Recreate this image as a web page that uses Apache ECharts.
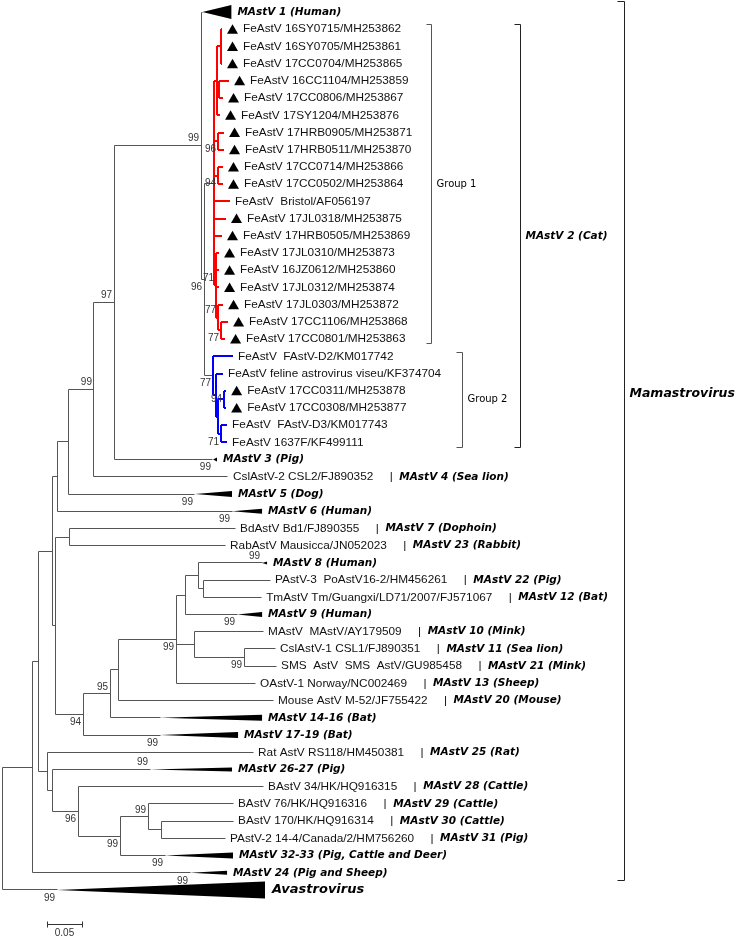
<!DOCTYPE html>
<html><head><meta charset="utf-8">
<script src="https://cdn.jsdelivr.net/npm/echarts@6/dist/echarts.min.js"></script>
<style>html,body{margin:0;padding:0;background:#fff}#c{width:741px;height:937px}</style>
</head><body><div id="c"></div>
<script>
// ---------------- DATA ----------------
// Tree topology as Newick fragments: leaf Ln = display row n, internal labels = bootstrap (%),
// branch lengths in substitutions/site.
const group1Clade = "(((L2:0.0014,L3:0.0014,L4:0.0014):0.0057,(L5:0.0143,L6:0.0057):0.0029,L7:0.0043):0.0043," +
  "(L8:0.0086,L9:0.0086)96:0.0057,(L10:0.0071,L11:0.0071)94:0.0057,L12:0.0229,L13:0.0171,L14:0.0114," +
  "(L15:0.0043,L16:0.0043,L17:0.0043,(L18:0.0071,(L19:0.01,L20:0.0057)77:0.0043)77:0.0029)71:0.0029):0.0143";
const group2Clade = "(L21:0.0286,(L22:0.01,((L23:0.0029,L24:0.0029)94:0.0086,(L25:0.0086,L26:0.0086)71:0.0043):0.0029):0.0043)77:0.0129";
const catClade = "(" + group1Clade + "," + group2Clade + ")96:0.0043";
const upperClade = "((((L1:0.002," + catClade + ")99:0.1243,L27:0.1414)97:0.0286,L28:0.1914)99:0.0371,L29:0.1814):0.0157";
const humanClade = "(" + upperClade + ",L30:0.25):0.0071";
const batQ = "((L33:0.0914,(L34:0.0957,L35:0.0829):0.0071):0.0186,L36:0.0743):0.0129";
const batR = "(L37:0.0986,(L38:0.0443,L39:0.0457)99:0.0714):0.0257";
const middleClade = "((L31:0.2371,L32:0.2229):0.02,((((" + batQ + "," + batR +
  ",L40:0.1129)99:0.0829,L41:0.2214):0.0114,L42:0.0714)95:0.0386,L43:0.11)94:0.04):0.0043";
const lowerClade = "(L44:0.2943,(L45:0.14,(L46:0.2643,((L47:0.1214,(L48:0.1029,L49:0.0914):0.0186)99:0.04,L50:0.0643)99:0.06)96:0.0371):0.0071):0.0129";
const newick = "((((" + humanClade + "," + middleClade + "):0.02," + lowerClade + "):0.0086,L51:0.2257):0.0429,L52:0.0786);";

const leafNames = [
 'MAstV 1 (Human)','FeAstV 16SY0715/MH253862','FeAstV 16SY0705/MH253861','FeAstV 17CC0704/MH253865',
 'FeAstV 16CC1104/MH253859','FeAstV 17CC0806/MH253867','FeAstV 17SY1204/MH253876','FeAstV 17HRB0905/MH253871',
 'FeAstV 17HRB0511/MH253870','FeAstV 17CC0714/MH253866','FeAstV 17CC0502/MH253864','FeAstV  Bristol/AF056197',
 'FeAstV 17JL0318/MH253875','FeAstV 17HRB0505/MH253869','FeAstV 17JL0310/MH253873','FeAstV 16JZ0612/MH253860',
 'FeAstV 17JL0312/MH253874','FeAstV 17JL0303/MH253872','FeAstV 17CC1106/MH253868','FeAstV 17CC0801/MH253863',
 'FeAstV  FAstV-D2/KM017742','FeAstV feline astrovirus viseu/KF374704','FeAstV 17CC0311/MH253878','FeAstV 17CC0308/MH253877',
 'FeAstV  FAstV-D3/KM017743','FeAstV 1637F/KF499111','MAstV 3 (Pig)','CslAstV-2 CSL2/FJ890352',
 'MAstV 5 (Dog)','MAstV 6 (Human)','BdAstV Bd1/FJ890355','RabAstV Mausicca/JN052023',
 'MAstV 8 (Human)','PAstV-3  PoAstV16-2/HM456261','TmAstV Tm/Guangxi/LD71/2007/FJ571067','MAstV 9 (Human)',
 'MAstV  MAstV/AY179509','CslAstV-1 CSL1/FJ890351','SMS  AstV  SMS  AstV/GU985458','OAstV-1 Norway/NC002469',
 'Mouse AstV M-52/JF755422','MAstV 14-16 (Bat)','MAstV 17-19 (Bat)','Rat AstV RS118/HM450381',
 'MAstV 26-27 (Pig)','BAstV 34/HK/HQ916315','BAstV 76/HK/HQ916316','BAstV 170/HK/HQ916314',
 'PAstV-2 14-4/Canada/2/HM756260','MAstV 32-33 (Pig, Cattle and Deer)','MAstV 24 (Pig and Sheep)','Avastrovirus'
];
const tagRows = [28,31,32,34,35,37,38,39,40,41,44,46,47,48,49];
const tagTexts = ['MAstV 4 (Sea lion)','MAstV 7 (Dophoin)','MAstV 23 (Rabbit)','MAstV 22 (Pig)','MAstV 12 (Bat)',
 'MAstV 10 (Mink)','MAstV 11 (Sea lion)','MAstV 21 (Mink)','MAstV 13 (Sheep)','MAstV 20 (Mouse)',
 'MAstV 25 (Rat)','MAstV 28 (Cattle)','MAstV 29 (Cattle)','MAstV 30 (Cattle)','MAstV 31 (Pig)'];
const markedRows = [2,3,4,5,6,7,8,9,10,11,13,14,15,16,17,18,19,20,23,24];
const collapsedRows = [1,27,29,30,33,36,42,43,45,50,51,52];
const collapsedDepth = [0.0414,0.0057,0.0529,0.0429,0.0071,0.0357,0.1457,0.1114,0.1171,0.0971,0.0529,0.2971];
const collapsedSupport = [null,99,99,99,99,99,null,99,99,99,99,99];
const scaleBarLength = 0.05;
const scaleBarLabel = '0.05';
const groupNames = ['Group 1','Group 2','MAstV 2 (Cat)','Mamastrovirus'];
const groupFirstRow = [2,21,2,1];
const groupLastRow = [20,26,26,51];

// ---------------- STYLE ----------------
const GRAY='#555', RED='#ff0000', BLUE='#0000ff';
const cladeColor = {'2-20':RED,'21-26':BLUE};
const supportAbove = {'1-26':1,'1-27':1,'1-28':1,'15-20':1,'18-20':1,'33-42':1,'47-49':1,'33':1,'45':1,'23-24':2};
const wedgeHalf = {1:7,27:2,29:3,30:2.5,33:1.5,36:2.5,42:3,43:3,45:2,50:3,51:2,52:8.5};
const bracketX = [431,462,520,624], bracketTick=[5,6,6,7], bracketTop=[-5,-4,-5,-11], bracketBot=[4,5,5,7];
const bracketColor = ['#555','#555','#222','#222'];
const bracketLabelRowShift = [0,0,0,-2.8];
const scaleBarStart = 0.0643;
const NORM="'Liberation Sans', Arial, sans-serif", VERD="'DejaVu Sans', Verdana, sans-serif";

// ---------------- TREE LAYOUT ----------------
function parseNewick(s){
  let i=0;
  function node(){
    const n={children:[]};
    if(s[i]==='('){ i++; n.children.push(node()); while(s[i]===','){ i++; n.children.push(node()); } i++; }
    let lab=''; while(i<s.length && !':,);'.includes(s[i])) lab+=s[i++];
    n.label=lab; n.bl=0;
    if(s[i]===':'){ i++; let num=''; while(i<s.length && !',);'.includes(s[i])) num+=s[i++]; n.bl=parseFloat(num); }
    return n;
  }
  return node();
}
const root=parseNewick(newick);
const allNodes=[];
(function lay(n,px,parent){
  n.x=px+n.bl; n.parent=parent; allNodes.push(n);
  n.color = parent? parent.color : GRAY;
  if(n.children.length){
    const f0=n.children[0], l0=n.children[n.children.length-1];
    const rng=(m)=>{ if(!m.children.length) return [parseInt(m.label.slice(1)),parseInt(m.label.slice(1))];
      return [rng(m.children[0])[0], rng(m.children[m.children.length-1])[1]]; };
    const r=rng(n); if(cladeColor[r[0]+'-'+r[1]]) n.color=cladeColor[r[0]+'-'+r[1]];
    n.children.forEach(c=>lay(c,n.x,n));
    n.y=(f0.y+l0.y)/2; n.first=f0.first; n.last=l0.last;
  } else { n.row=parseInt(n.label.slice(1)); n.y=n.row; n.first=n.last=n.row; }
  n.key=n.first===n.last? String(n.first) : n.first+'-'+n.last;
})(root,0,null);

const colorList=[GRAY,RED,BLUE];
const cIdx=c=>colorList.indexOf(c);
const segs=[];
allNodes.forEach(n=>{
  if(n.parent) segs.push([n.parent.x,n.y,n.x,n.y,cIdx(n.parent.color)]);
  if(n.children.length){
    const f=n.children[0], l=n.children[n.children.length-1];
    segs.push([n.x,f.y,n.x,l.y,cIdx(n.color)]);
  }
});
const wedges=[], leafLab=[], supports=[];
allNodes.forEach(n=>{
  if(n.children.length){
    if(n.label) supports.push([n.x,n.y,+n.label,supportAbove[n.key]||0]);
    return;
  }
  const ci=collapsedRows.indexOf(n.row);
  if(ci>=0){
    wedges.push([n.x,n.y,n.x+collapsedDepth[ci],n.row]);
    leafLab.push([n.x+collapsedDepth[ci],n.y,n.row]);
    if(collapsedSupport[ci]!=null) supports.push([n.x,n.y,collapsedSupport[ci],supportAbove[n.key]||0]);
  } else leafLab.push([n.x,n.y,n.row]);
});
const brackets=groupNames.map((g,i)=>[groupFirstRow[i],groupLastRow[i],i]);

// ---------------- RENDER ----------------
const chart=echarts.init(document.getElementById('c'),null,{renderer:'canvas'});
const snap=(v,w)=> (w%2? Math.round(v-0.5)+0.5 : Math.round(v));
chart.setOption({
  animation:false,
  grid:{left:2,right:0,top:12,bottom:47},
  xAxis:{type:'value',min:0,max:739/700,show:false},
  yAxis:{type:'value',min:1,max:52,inverse:true,show:false},
  series:[
    {type:'custom',clip:false,silent:true,data:segs,encode:{x:[0,2],y:[1,3]},
     renderItem:(p,api)=>{
       const a=api.coord([api.value(0),api.value(1)]), b=api.coord([api.value(2),api.value(3)]);
       const c=api.value(4), w=c?2:1;
       return {type:'line',shape:{x1:snap(a[0],w),y1:snap(a[1],w),x2:snap(b[0],w),y2:snap(b[1],w)},
               style:{stroke:colorList[c],lineWidth:w}};
     }},
    {type:'custom',clip:false,silent:true,data:wedges,encode:{x:[0,2],y:1},
     renderItem:(p,api)=>{
       const a=api.coord([api.value(0),api.value(1)]), t=api.coord([api.value(2),api.value(1)]);
       const h=wedgeHalf[api.value(3)];
       return {type:'polygon',shape:{points:[[a[0],a[1]],[t[0],t[1]-h],[t[0],t[1]+h]]},style:{fill:'#000'}};
     }},
    {type:'custom',clip:false,silent:true,data:leafLab,encode:{x:0,y:1},
     renderItem:(p,api)=>{
       const t=api.coord([api.value(0),api.value(1)]); const row=api.value(2);
       const name=leafNames[row-1];
       const children=[];
       let x=t[0];
       if(collapsedRows.indexOf(row)>=0){
         const big=row===52;
         children.push({type:'text',x:x+(big?7:6),y:t[1],style:{text:name,fill:'#000',
           font:(big?'italic bold 13px ':'italic bold 10.5px ')+VERD,align:'left',verticalAlign:'middle'}});
       } else {
         if(markedRows.indexOf(row)>=0){
           const cx=x+10.5, cy=t[1];
           children.push({type:'polygon',shape:{points:[[cx-5.5,cy+4.5],[cx+5.5,cy+4.5],[cx,cy-5]]},style:{fill:'#000'}});
           x+=21;
         } else x+=5;
         const ti=tagRows.indexOf(row);
         const txt= ti>=0 ? '{n|'+name+'}{n|     |  }{b|'+tagTexts[ti]+'}' : '{n|'+name+'}';
         children.push({type:'text',x:x,y:t[1],style:{text:txt,align:'left',verticalAlign:'middle',
           rich:{n:{fontFamily:NORM,fontSize:11.8,fill:'#111'},
                 b:{fontFamily:VERD,fontSize:10.5,fontWeight:'bold',fontStyle:'italic',fill:'#000'}}}});
       }
       return {type:'group',children};
     }},
    {type:'custom',clip:false,silent:true,data:supports,encode:{x:0,y:1},
     renderItem:(p,api)=>{
       const t=api.coord([api.value(0),api.value(1)]); const pos=api.value(3);
       const dy= pos===1? -7 : (pos===2? 0 : 8);
       return {type:'text',x:t[0]-2,y:t[1]+dy,style:{text:String(api.value(2)),fill:'#333',
         font:'10px '+NORM,align:'right',verticalAlign:'middle'}};
     }},
    {type:'custom',clip:false,silent:true,data:brackets,encode:{y:[0,1]},
     renderItem:(p,api)=>{
       const i=api.value(2);
       const top=api.coord([0,api.value(0)])[1]+bracketTop[i], bot=api.coord([0,api.value(1)])[1]+bracketBot[i];
       const X=bracketX[i]+0.5, tk=bracketTick[i];
       const mid=api.coord([0,(api.value(0)+api.value(1))/2+bracketLabelRowShift[i]])[1];
       const st={stroke:bracketColor[i],lineWidth:1,fill:null};
       let font;
       if(i<2) font='10px '+VERD; else if(i===2) font='italic bold 10.5px '+VERD; else font='italic bold 12.5px '+VERD;
       return {type:'group',children:[
         {type:'polyline',shape:{points:[[X-tk,Math.round(top)+0.5],[X,Math.round(top)+0.5],[X,Math.round(bot)+0.5],[X-tk,Math.round(bot)+0.5]]},style:st},
         {type:'text',x:X+5,y:mid,style:{text:groupNames[i],fill:'#000',font,align:'left',verticalAlign:'middle'}}
       ]};
     }},
    {type:'custom',clip:false,silent:true,data:[[scaleBarStart,52,scaleBarLength]],encode:{x:0,y:1},
     renderItem:(p,api)=>{
       const a=api.coord([api.value(0),api.value(1)]), b=api.coord([api.value(0)+api.value(2),api.value(1)]);
       const y=Math.round(a[1]+34)+0.5;
       const st={stroke:'#333',lineWidth:1};
       return {type:'group',children:[
         {type:'line',shape:{x1:a[0],y1:y,x2:b[0],y2:y},style:st},
         {type:'line',shape:{x1:Math.round(a[0])+0.5,y1:y-3,x2:Math.round(a[0])+0.5,y2:y+3},style:st},
         {type:'line',shape:{x1:Math.round(b[0])+0.5,y1:y-3,x2:Math.round(b[0])+0.5,y2:y+3},style:st},
         {type:'text',x:(a[0]+b[0])/2,y:y+9,style:{text:scaleBarLabel,fill:'#333',font:'10px '+NORM,align:'center',verticalAlign:'middle'}}
       ]};
     }}
  ]
});
</script></body></html>
